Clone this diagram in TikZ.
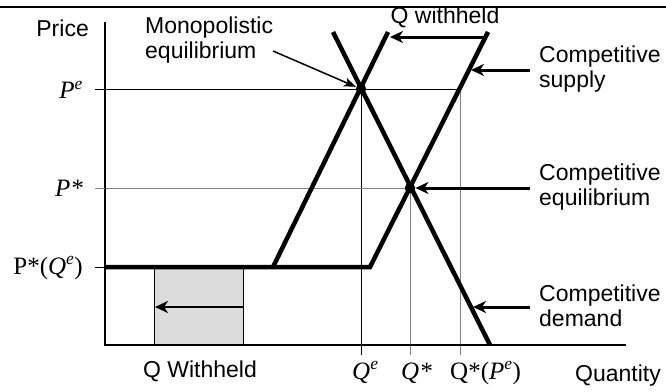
\documentclass[tikz,border=0pt]{standalone}
\usepackage{fontspec}
\newfontfamily\lsans{Liberation Sans}
\newfontfamily\lserif{Liberation Serif}
\usetikzlibrary{arrows.meta}
\definecolor{boxgray}{HTML}{DCDCDC}
\definecolor{guidegray}{HTML}{808080}
\tikzset{
  sanslbl/.style={font=\lsans\fontsize{23}{25}\selectfont, inner sep=0pt},
  seriflbl/.style={font=\lserif\fontsize{25}{27}\selectfont, inner sep=0pt},
  curve/.style={line width=4.5pt, line join=miter},
  axisline/.style={line width=2pt},
  guide/.style={line width=1pt},
  guidegr/.style={line width=1pt, draw=guidegray},
  lblarrow/.style={line width=3pt, -{Stealth[length=13pt,width=12pt,inset=4pt]}},
  thinarrow/.style={line width=1.5pt, -{Stealth[length=12pt,width=9pt,inset=3pt]}},
  dot/.style={circle, fill=black, inner sep=0pt, minimum size=10.5pt}
}
\newcommand{\supe}{\textsuperscript{\itshape e}}
\begin{document}
\begin{tikzpicture}[x=1pt,y=-1pt]
\useasboundingbox (0,0) rectangle (666,391);
% top rule
\draw[line width=2pt] (0,7) -- (666,7);
% coordinates
\coordinate (yt) at (105,22);
\coordinate (o) at (105,345);
\coordinate (xe) at (626,345);
\coordinate (kink) at (370,267);
\coordinate (sL) at (105,267);
\coordinate (sTop) at (488,32);
\coordinate (mBot) at (273,267);
\coordinate (mTop) at (388,32);
\coordinate (dTop) at (333,32);
\coordinate (dBot) at (490,345);
\coordinate (me) at (361,89);
\coordinate (ce) at (410,188);
\coordinate (qpe) at (460,89);
% shaded box
\filldraw[fill=boxgray, draw=black, line width=1pt] (154,267) rectangle (243,345);
\coordinate (bxR) at (243,307);
\coordinate (bxL) at (155,307);
\draw[line width=2.5pt, -{Stealth[length=13pt,width=12pt,inset=4pt]}] (bxR) -- (bxL);
% guides
\draw[guide] (95,89) -- (qpe);
\draw[guide] (me) -- (361,355);
\draw[guidegr] (95,188) -- (ce);
\draw[guidegr] (ce) -- (410,355);
\draw[guidegr] (qpe) -- (460,355);
\draw[guide] (95,267) -- (105,267);
% axes
\draw[axisline] (yt) -- (o) -- (xe);
% curves
\draw[curve] (sL) -- (kink) -- (sTop);
\draw[curve] (mBot) -- (mTop);
\draw[curve] (dTop) -- (dBot);
\node[dot] (medot) at (me) {};
\node[dot] (cedot) at (ce) {};
% labels
\node[sanslbl, anchor=east] (price) at (89,28) {Price};
\node[sanslbl, anchor=west, align=left] (monlbl) at (145,40) {Monopolistic\\equilibrium};
\coordinate (monA) at (273,51);
\draw[thinarrow] (monA) -- (medot);
\node[sanslbl] (qwh) at (445,17) {Q withheld};
\coordinate (qwA) at (483,37);
\coordinate (qwB) at (390,37);
\draw[lblarrow] (qwA) -- (qwB);
\node[sanslbl, anchor=west, align=left] (cslbl) at (539,69) {Competitive\\supply};
\coordinate (csA) at (530,70);
\draw[lblarrow] (csA) -- (471,70);
\node[sanslbl, anchor=west, align=left] (celbl) at (539,187) {Competitive\\equilibrium};
\coordinate (ceA) at (530,188);
\draw[lblarrow] (ceA) -- (cedot);
\node[sanslbl, anchor=west, align=left] (cdlbl) at (539,306) {Competitive\\demand};
\coordinate (cdA) at (530,307);
\draw[lblarrow] (cdA) -- (473,307);
\node[sanslbl] (qwl) at (200,371) {Q Withheld};
\node[sanslbl] (qty) at (618,376) {Quantity};
% serif axis labels
\node[seriflbl, anchor=east] (pe) at (83,90) {\itshape P\supe};
\node[seriflbl, anchor=east] (ps) at (83,188) {\itshape P*};
\node[seriflbl, anchor=east] (pq) at (83,268) {P*({\itshape Q}\supe)};
\node[seriflbl, anchor=base west] (qe) at (352,379) {\itshape Q\supe};
\node[seriflbl, anchor=base west] (qs) at (401,379) {\itshape Q*};
\node[seriflbl, anchor=base west] (qp) at (450,379) {Q*({\itshape P}\supe)};
% ticks
\draw[guide] (95,89) -- (105,89);
\draw[guidegr] (95,188) -- (105,188);
\end{tikzpicture}
\end{document}
